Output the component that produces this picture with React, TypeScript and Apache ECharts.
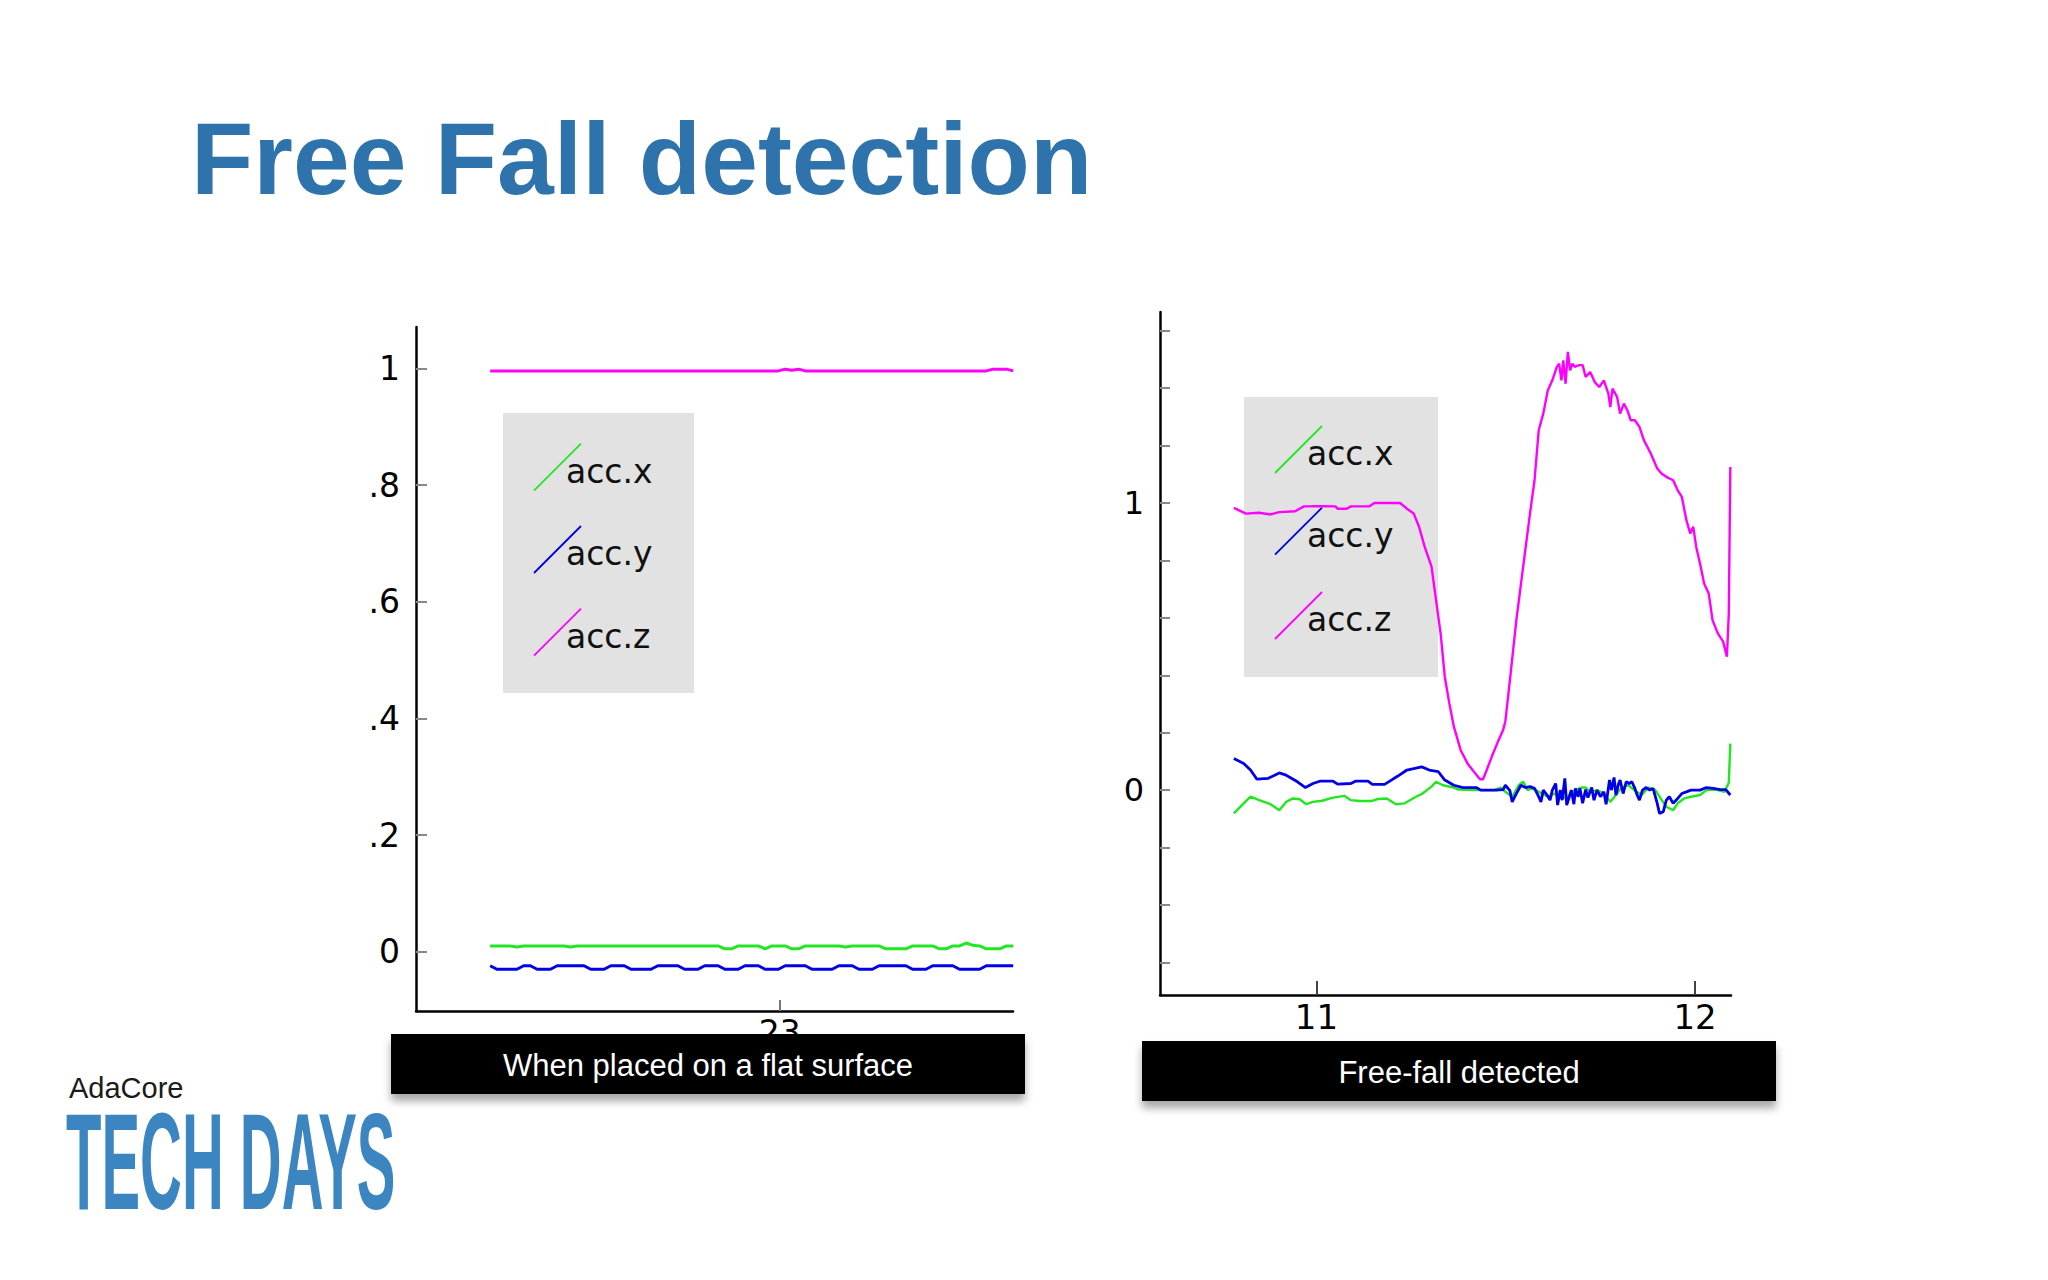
import React, { useEffect, useRef } from "react";
import * as echarts from "echarts";

// ---------- Left panel: "When placed on a flat surface" ----------
const LEFT_T0 = 22.2405; // time of first sample (s)
const LEFT_DT = 0.01759; // sample period (s)
const leftAccX = [
  0.010, 0.010, 0.010, 0.010, 0.008, 0.010, 0.010, 0.010, 0.010, 0.010, 0.010, 0.010, 0.008,
  0.010, 0.010, 0.010, 0.010, 0.010, 0.010, 0.010, 0.010, 0.010, 0.010, 0.010, 0.010, 0.010,
  0.010, 0.010, 0.010, 0.010, 0.010, 0.010, 0.010, 0.010, 0.010,
  0.005, 0.005, 0.010, 0.010, 0.010, 0.010, 0.005, 0.010, 0.010, 0.010, 0.005, 0.005,
  0.010, 0.010, 0.010, 0.010, 0.010, 0.010, 0.008, 0.010, 0.010, 0.010, 0.010, 0.010,
  0.005, 0.005, 0.005, 0.005, 0.010, 0.010, 0.010, 0.010, 0.005, 0.005, 0.010, 0.010,
  0.015, 0.011, 0.010, 0.005, 0.005, 0.005, 0.010, 0.010,
];
const leftAccY = [
  -0.024, -0.030, -0.030, -0.030, -0.030, -0.024, -0.024, -0.030, -0.030, -0.030,
  -0.024, -0.024, -0.024, -0.024, -0.024, -0.030, -0.030, -0.030, -0.024, -0.024, -0.024,
  -0.030, -0.030, -0.030, -0.030, -0.024, -0.024, -0.024, -0.024, -0.030, -0.030, -0.030,
  -0.024, -0.024, -0.024, -0.030, -0.030, -0.030, -0.024, -0.024, -0.024, -0.030, -0.030, -0.030,
  -0.024, -0.024, -0.024, -0.024, -0.030, -0.030, -0.030, -0.030, -0.024, -0.024, -0.024,
  -0.030, -0.030, -0.030, -0.024, -0.024, -0.024, -0.024, -0.024, -0.030, -0.030, -0.030,
  -0.024, -0.024, -0.024, -0.024, -0.030, -0.030, -0.030, -0.030,
  -0.024, -0.024, -0.024, -0.024, -0.024,
];
const leftAccZ = [
  0.996, 0.996, 0.996, 0.996, 0.996, 0.996, 0.996, 0.996, 0.996, 0.996, 0.996, 0.996,
  0.996, 0.996, 0.996, 0.996, 0.996, 0.996, 0.996, 0.996, 0.996, 0.996, 0.996, 0.996,
  0.996, 0.996, 0.996, 0.996, 0.996, 0.996, 0.996, 0.996, 0.996, 0.996, 0.996, 0.996,
  0.996, 0.996, 0.996, 0.996, 0.996, 0.996, 0.996, 0.996,
  0.999, 0.997, 0.999,
  0.996, 0.996, 0.996, 0.996, 0.996, 0.996, 0.996, 0.996, 0.996, 0.996, 0.996, 0.996,
  0.996, 0.996, 0.996, 0.996, 0.996, 0.996, 0.996, 0.996, 0.996, 0.996, 0.996, 0.996,
  0.996, 0.996, 0.996, 0.996,
  0.999, 0.999, 0.999, 0.996,
];
const leftYTicks = [0, 0.2, 0.4, 0.6, 0.8, 1];
const leftXTicks = [23];

// ---------- Right panel: "Free-fall detected" ----------
const rightAccX: [number, number][] = [
  [10.782, -0.081], [10.808, -0.046], [10.826, -0.023], [10.849, -0.035], [10.879, -0.049],
  [10.902, -0.070], [10.920, -0.041], [10.938, -0.029], [10.956, -0.032], [10.973, -0.049],
  [10.991, -0.041], [11.015, -0.037], [11.044, -0.026], [11.074, -0.020], [11.091, -0.035],
  [11.115, -0.038], [11.145, -0.038], [11.162, -0.031], [11.186, -0.029], [11.210, -0.049],
  [11.233, -0.046], [11.263, -0.023], [11.280, -0.012], [11.304, 0.012], [11.316, 0.029],
  [11.334, 0.017], [11.363, 0.009], [11.375, 0.002], [11.416, 0.0], [11.469, 0.0],
  [11.487, 0.009], [11.499, -0.006], [11.517, -0.023], [11.534, 0.017], [11.546, 0.029],
  [11.558, 0.0], [11.570, 0.006], [11.587, -0.006], [11.611, -0.023], [11.629, -0.012],
  [11.647, -0.029], [11.664, -0.023], [11.682, 0.0], [11.700, 0.009], [11.711, 0.009],
  [11.723, -0.006], [11.741, 0.0], [11.759, -0.012], [11.776, -0.041], [11.794, -0.012],
  [11.806, 0.009], [11.824, 0.017], [11.841, -0.002], [11.859, -0.017], [11.877, 0.009],
  [11.895, 0.0], [11.912, -0.035], [11.924, -0.058], [11.942, -0.070], [11.954, -0.046],
  [11.971, -0.029], [11.989, -0.023], [12.013, -0.017], [12.030, 0.0], [12.054, 0.002],
  [12.078, -0.006], [12.089, 0.026], [12.093, 0.162],
];
const rightAccY: [number, number][] = [
  [10.782, 0.110], [10.808, 0.093], [10.826, 0.070], [10.843, 0.038], [10.873, 0.041],
  [10.902, 0.060], [10.920, 0.052], [10.950, 0.029], [10.971, 0.009], [10.991, 0.023],
  [11.009, 0.031], [11.044, 0.031], [11.056, 0.021], [11.091, 0.023], [11.103, 0.031],
  [11.136, 0.031], [11.148, 0.020], [11.180, 0.020], [11.198, 0.035], [11.215, 0.049],
  [11.239, 0.070], [11.257, 0.075], [11.278, 0.081], [11.298, 0.070], [11.322, 0.064],
  [11.339, 0.035], [11.363, 0.017], [11.387, 0.009], [11.422, 0.009], [11.434, 0.0],
  [11.475, 0.0], [11.493, 0.002], [11.499, 0.017], [11.511, -0.002], [11.517, -0.041],
  [11.528, -0.012], [11.540, 0.017], [11.552, 0.009], [11.564, 0.012], [11.576, 0.006],
  [11.587, -0.023], [11.593, -0.041], [11.599, 0.0], [11.609, -0.017], [11.617, -0.035],
  [11.623, 0.0], [11.632, 0.023], [11.637, -0.052], [11.644, 0.0], [11.649, -0.035],
  [11.656, 0.041], [11.661, -0.052], [11.668, -0.023], [11.673, 0.0], [11.680, -0.049],
  [11.684, 0.006], [11.691, -0.023], [11.696, 0.006], [11.703, -0.046], [11.711, 0.002],
  [11.717, -0.026], [11.727, 0.009], [11.733, -0.035], [11.741, 0.0], [11.750, -0.023],
  [11.759, -0.006], [11.765, -0.049], [11.774, 0.035], [11.779, 0.0], [11.786, 0.044],
  [11.791, -0.017], [11.798, 0.023], [11.802, 0.035], [11.810, -0.012], [11.818, 0.029],
  [11.826, 0.023], [11.833, 0.029], [11.841, 0.006], [11.847, -0.017], [11.853, -0.035],
  [11.861, 0.0], [11.871, 0.009], [11.880, 0.0], [11.889, 0.006], [11.900, -0.046],
  [11.906, -0.081], [11.916, -0.075], [11.924, -0.035], [11.932, -0.023], [11.942, -0.046],
  [11.954, -0.029], [11.965, -0.012], [11.977, -0.006], [11.989, 0.0], [12.013, 0.0],
  [12.030, 0.009], [12.048, 0.006], [12.066, 0.002], [12.081, 0.002], [12.093, -0.017],
];
const rightAccZ: [number, number][] = [
  [10.782, 0.983], [10.814, 0.963], [10.849, 0.966], [10.879, 0.960], [10.902, 0.968],
  [10.944, 0.971], [10.967, 0.988], [11.009, 0.989], [11.050, 0.988], [11.056, 0.980],
  [11.080, 0.980], [11.091, 0.988], [11.139, 0.988], [11.153, 1.000], [11.221, 1.000],
  [11.239, 0.980], [11.257, 0.963], [11.271, 0.917], [11.286, 0.847], [11.304, 0.778],
  [11.316, 0.661], [11.328, 0.546], [11.339, 0.395], [11.351, 0.302], [11.363, 0.221],
  [11.381, 0.139], [11.399, 0.093], [11.416, 0.064], [11.432, 0.038], [11.440, 0.038],
  [11.448, 0.064], [11.463, 0.116], [11.481, 0.174], [11.493, 0.209], [11.499, 0.240],
  [11.511, 0.383], [11.528, 0.592], [11.546, 0.778], [11.564, 0.963], [11.576, 1.079],
  [11.587, 1.253], [11.599, 1.311], [11.611, 1.392], [11.623, 1.427], [11.635, 1.474],
  [11.641, 1.485], [11.647, 1.427], [11.652, 1.497], [11.658, 1.415], [11.664, 1.526],
  [11.670, 1.462], [11.676, 1.485], [11.682, 1.474], [11.694, 1.480], [11.703, 1.480],
  [11.711, 1.439], [11.723, 1.456], [11.735, 1.421], [11.747, 1.404], [11.759, 1.427],
  [11.771, 1.381], [11.776, 1.334], [11.782, 1.398], [11.794, 1.369], [11.802, 1.311],
  [11.812, 1.346], [11.821, 1.323], [11.830, 1.288], [11.841, 1.288], [11.853, 1.265],
  [11.865, 1.218], [11.883, 1.172], [11.900, 1.120], [11.912, 1.102], [11.924, 1.091],
  [11.942, 1.079], [11.954, 1.044], [11.965, 1.021], [11.977, 0.940], [11.987, 0.894],
  [11.995, 0.917], [12.003, 0.847], [12.013, 0.789], [12.024, 0.719], [12.036, 0.685],
  [12.046, 0.592], [12.060, 0.546], [12.074, 0.517], [12.084, 0.465], [12.089, 0.615],
  [12.093, 1.125],
];
const rightYTicks = [-0.6, -0.4, -0.2, 0, 0.2, 0.4, 0.6, 0.8, 1, 1.2, 1.4, 1.6];
const rightYLabels = [0, 1];
const rightXTicks = [11, 12];

const seriesNames = ["acc.x", "acc.y", "acc.z"];
const seriesColors = ["#22e622", "#0000e6", "#ff00ff"];

const TITLE = "Free Fall detection";
const CAPTIONS = ["When placed on a flat surface", "Free-fall detected"];

const TICK_FONT = "DejaVu Sans";

function fmtLeft(v: number) {
  if (v === 0) return "0";
  if (v === 1) return "1";
  return String(Math.round(v * 10) / 10).replace(/^0/, "");
}

function legendGroup(x0: number, y0: number, w: number, h: number, rows: number[]) {
  const els: any[] = [
    { type: "rect", z: 1, shape: { x: x0, y: y0, width: w, height: h }, style: { fill: "#e2e2e2" } },
  ];
  rows.forEach((baseline, i) => {
    els.push({
      type: "line",
      z: 2,
      shape: { x1: x0 + 31, y1: baseline + 8, x2: x0 + 78, y2: baseline - 39 },
      style: { stroke: seriesColors[i], lineWidth: 1.8 },
    });
    els.push({
      type: "text",
      z: 2,
      x: x0 + 63,
      y: baseline - 11.5,
      style: {
        text: seriesNames[i],
        font: `33px "${TICK_FONT}"`,
        fill: "#111",
        align: "left",
        verticalAlign: "middle",
      },
    });
  });
  return els;
}

function caption(x: number, y: number, w: number, h: number, text: string) {
  return [
    {
      type: "rect",
      z: 50,
      shape: { x, y, width: w, height: h },
      style: {
        fill: "#000",
        shadowBlur: 8,
        shadowOffsetY: 7,
        shadowColor: "rgba(0,0,0,0.35)",
      },
    },
    {
      type: "text",
      z: 51,
      x: x + w / 2,
      y: y + h / 2 + 1,
      style: {
        text,
        font: '31px "Liberation Sans", Arial, sans-serif',
        fill: "#fff",
        align: "center",
        verticalAlign: "middle",
      },
    },
  ];
}

export default function App() {
  const ref = useRef<HTMLDivElement>(null);
  useEffect(() => {
    if (!ref.current) return;
    const chart = echarts.init(ref.current, null, { renderer: "svg" });

    const axisLine = { show: true, onZero: false, lineStyle: { color: "#000", width: 2.5 } };
    const labelBase = { fontFamily: TICK_FONT, color: "#000" };

    const leftData = [leftAccX, leftAccY, leftAccZ].map((arr) =>
      arr.map((v, i) => [LEFT_T0 + i * LEFT_DT, v])
    );
    const rightData = [rightAccX, rightAccY, rightAccZ];

    const option: any = {
      animation: false,
      backgroundColor: "#ffffff",
      grid: [
        { left: 416, top: 327, width: 597, height: 684, containLabel: false },
        { left: 1160, top: 312, width: 571, height: 683, containLabel: false },
      ],
      xAxis: [
        {
          type: "value",
          gridIndex: 0,
          min: 22.046,
          max: 23.612,
          axisLine,
          axisTick: { show: true, inside: true, length: 11, customValues: leftXTicks, lineStyle: { color: "#777", width: 2 } },
          axisLabel: { ...labelBase, fontSize: 33, margin: 5, customValues: leftXTicks },
          splitLine: { show: false },
        },
        {
          type: "value",
          gridIndex: 1,
          min: 10.587,
          max: 12.0948,
          axisLine,
          axisTick: { show: true, inside: true, length: 14, customValues: rightXTicks, lineStyle: { color: "#444", width: 2 } },
          axisLabel: { ...labelBase, fontSize: 34, margin: 5, customValues: rightXTicks },
          splitLine: { show: false },
        },
      ],
      yAxis: [
        {
          type: "value",
          gridIndex: 0,
          min: -0.1016,
          max: 1.0713,
          axisLine,
          axisTick: { show: true, inside: true, length: 11, customValues: leftYTicks, lineStyle: { color: "#888", width: 2 } },
          axisLabel: { ...labelBase, fontSize: 33, margin: 16, customValues: leftYTicks, formatter: fmtLeft },
          splitLine: { show: false },
        },
        {
          type: "value",
          gridIndex: 1,
          min: -0.7135,
          max: 1.665,
          axisLine,
          axisTick: { show: true, inside: true, length: 10, customValues: rightYTicks, lineStyle: { color: "#888", width: 2 } },
          axisLabel: { ...labelBase, fontSize: 32, margin: 16, customValues: rightYLabels, formatter: (v: number) => String(Math.round(v)) },
          splitLine: { show: false },
        },
      ],
      series: [
        ...leftData.map((d, i) => ({
          name: seriesNames[i],
          type: "line",
          xAxisIndex: 0,
          yAxisIndex: 0,
          data: d,
          showSymbol: false,
          symbol: "none",
          z: 5,
          lineStyle: { color: seriesColors[i], width: 3 },
          itemStyle: { color: seriesColors[i] },
        })),
        ...rightData.map((d, i) => ({
          name: seriesNames[i],
          type: "line",
          xAxisIndex: 1,
          yAxisIndex: 1,
          data: d,
          showSymbol: false,
          symbol: "none",
          z: 5,
          lineStyle: { color: seriesColors[i], width: i === 1 ? 2.8 : 2.4 },
          itemStyle: { color: seriesColors[i] },
        })),
      ],
      graphic: [
        {
          type: "text",
          x: 191,
          y: 158.5,
          z: 10,
          style: {
            text: TITLE,
            font: 'bold 102px "Liberation Sans", Arial, sans-serif',
            fill: "#2E73AC",
            align: "left",
            verticalAlign: "middle",
          },
        },
        ...legendGroup(503, 413, 191, 280, [482.7, 565, 647.7]),
        ...legendGroup(1244, 397, 194, 280, [465, 546.7, 631]),
        ...caption(391, 1034, 634, 60, CAPTIONS[0]),
        ...caption(1142, 1041, 634, 60, CAPTIONS[1]),
        {
          type: "text",
          x: 69,
          y: 1088,
          z: 10,
          style: {
            text: "AdaCore",
            font: '29px "Liberation Sans", Arial, sans-serif',
            fill: "#1a1a1a",
            align: "left",
            verticalAlign: "middle",
          },
        },
        {
          type: "text",
          x: 66,
          y: 1161,
          z: 10,
          scaleX: 0.423,
          style: {
            text: "TECH DAYS",
            font: 'bold 137px "Liberation Sans", Arial, sans-serif',
            fill: "#3B86C0",
            align: "left",
            verticalAlign: "middle",
          },
        },
      ],
    };

    chart.setOption(option);
    return () => chart.dispose();
  }, []);

  return (
    <div
      ref={ref}
      style={{ position: "fixed", left: 0, top: 0, width: 2048, height: 1280, background: "#fff" }}
    />
  );
}
